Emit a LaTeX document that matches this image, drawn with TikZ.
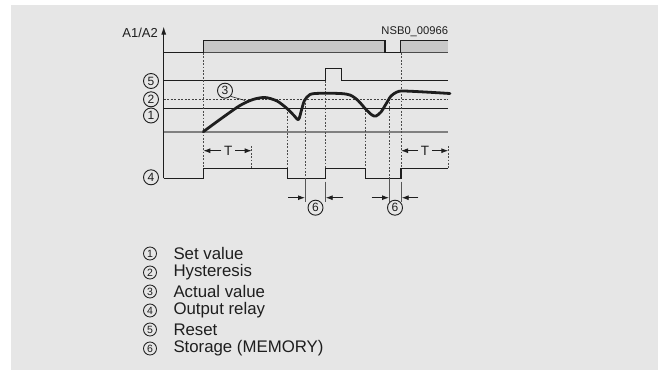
\documentclass[tikz,border=0pt]{standalone}
\usepackage{fontspec}
\setmainfont{Liberation Sans}
\usetikzlibrary{arrows.meta}
\definecolor{bg}{RGB}{230,230,230}
\definecolor{boxfill}{RGB}{200,200,200}
\definecolor{ink}{RGB}{30,30,30}
\definecolor{midgray}{RGB}{128,128,128}
\begin{document}
\begin{tikzpicture}[x=1pt,y=-1pt,
  sig/.style={draw=ink, line width=1.3pt, line join=miter},
  dotv/.style={draw=ink!80, line width=0.9pt, dash pattern=on 1.8pt off 1.6pt},
  tick/.style={draw=ink!75, line width=0.9pt},
  cnum/.style={circle, draw=ink, line width=0.9pt, inner sep=0pt, minimum size=15pt, font=\fontsize{12}{12}\selectfont, text=ink},
  lnum/.style={circle, draw=ink, line width=0.85pt, inner sep=0pt, minimum size=13pt, font=\fontsize{10.5}{10.5}\selectfont, text=ink},
  ltext/.style={anchor=west, inner sep=0pt, font=\fontsize{16.8}{16.8}\selectfont, text=ink},
  tlabel/.style={inner sep=2.5pt, font=\fontsize{13.5}{13.5}\selectfont, text=ink},
  dimarrow/.style={-{Latex[length=7pt,width=5pt]}, draw=ink, line width=0.9pt},
]
\useasboundingbox (0,0) rectangle (658,370);
\fill[white] (0,0) rectangle (658,370);
\fill[bg] (11,5) rectangle (658,370);

% A1/A2 supply
\fill[boxfill] (203.3,40.7) rectangle (385,52.7);
\fill[boxfill] (400.7,40.7) rectangle (448.3,52.7);
\draw[ink!80, line width=0.6pt] (203.3,52.7) -- (385,52.7);
\draw[ink!80, line width=0.6pt] (400.7,52.7) -- (448.3,52.7);
\draw[sig] (163.7,52.7) -- (203.3,52.7) -- (203.3,40.7) -- (385,40.7) -- (385,52.7) -- (400.7,52.7) -- (400.7,40.7) -- (448.3,40.7);

% axis
\coordinate (axbot) at (163.7,178.3);
\coordinate (axtop) at (163.7,26.5);
\draw[ink, line width=1pt, -{Latex[length=8pt,width=5pt]}] (axbot) -- (axtop);
\node[anchor=east, inner sep=0pt, font=\fontsize{13}{13}\selectfont, text=ink] (a1a2) at (158,32.7) {A1/A2};
\node[anchor=east, inner sep=0pt, font=\fontsize{11.2}{11.2}\selectfont, text=ink] (nsb) at (448.3,31.7) {NSB0\_00966};

% reset
\draw[sig] (163.7,80.7) -- (325.7,80.7) -- (325.7,68.3) -- (341.7,68.3) -- (341.7,80.7) -- (448,80.7);
% hysteresis
\draw[ink!85, line width=1pt, dash pattern=on 2pt off 1.5pt] (163.7,99.3) -- (448,99.3);
% set value
\draw[ink, line width=1pt] (163.7,108.3) -- (448,108.3);
% gray base
\draw[midgray, line width=2pt] (163.7,131.7) -- (448,131.7);

% vertical dotted guides
\draw[dotv] (203.3,53) -- (203.3,168.3);
\draw[dotv] (287.7,109) -- (287.7,168.3);
\draw[dotv] (305,103) -- (305,178.3);
\draw[dotv] (325.7,81) -- (325.7,168.3);
\draw[dotv] (365.7,110) -- (365.7,168.3);
\draw[dotv] (389,99) -- (389,178.3);
\draw[dotv] (401,53) -- (401,168.3);
\draw[dotv] (251.7,146) -- (251.7,168.3);
\draw[dotv] (448.3,146) -- (448.3,168.3);

% actual value curve
\draw[ink, line width=2.8pt, line join=round, line cap=round] plot[smooth, tension=0.5] coordinates {
 (203.3,131.7) (222,118) (240,105.5) (253,99.5) (265,97.5) (277,101) (287,108.5) (294,115.5) (298.5,119.5)
 (301.5,110) (304.5,100.5) (310,94.5) (320,93.3) (340,93.5) (350,95) (358,100.5) (366,109.5) (372,115) (376,116)
 (381,112) (386,104) (391,96) (397,92) (403,91) (425,92) (450,93.5)};

% output relay
\draw[sig] (163.7,178.3) -- (203.3,178.3) -- (203.3,168.3) -- (287.7,168.3) -- (287.7,178.3) -- (325.7,178.3) -- (325.7,168.3) -- (365.7,168.3) -- (365.7,178.3) -- (401,178.3) -- (401,168.3) -- (448.3,168.3);

% labels in diagram
\node[cnum] (n5) at (151,81) {5};
\node[cnum] (n2) at (151,99.3) {2};
\node[cnum] (n1) at (151,115.5) {1};
\node[cnum] (n4) at (151,177.3) {4};
\node[cnum] (n3) at (225,90.7) {3};
\coordinate (c3) at (245,100.5);
\draw[ink, line width=0.6pt] (n3.south east) -- (c3);

% T dimensions
\node[tlabel] (t1) at (228.3,150.7) {T};
\coordinate (t1l) at (203.3,150.7);
\coordinate (t1r) at (251.7,150.7);
\draw[dimarrow] (t1.west) -- (t1l);
\draw[dimarrow] (t1.east) -- (t1r);
\node[tlabel] (t2) at (425,150.7) {T};
\coordinate (t2l) at (401,150.7);
\coordinate (t2r) at (448.3,150.7);
\draw[dimarrow] (t2.west) -- (t2l);
\draw[dimarrow] (t2.east) -- (t2r);

% storage (6) dimensions
\draw[tick] (305,178.3) -- (305,201.7);
\draw[tick] (325.7,181.5) -- (325.7,201.7);
\draw[tick] (389,178.3) -- (389,201.7);
\draw[tick] (401.7,181.5) -- (401.7,201.7);
\coordinate (s1a) at (288.3,197.7); \coordinate (s1b) at (305,197.7);
\coordinate (s1c) at (343.3,197.7); \coordinate (s1d) at (325.7,197.7);
\coordinate (s2a) at (371.7,197.7); \coordinate (s2b) at (389,197.7);
\coordinate (s2c) at (418.3,197.7); \coordinate (s2d) at (401.7,197.7);
\draw[dimarrow] (s1a) -- (s1b);
\draw[dimarrow] (s1c) -- (s1d);
\draw[dimarrow] (s2a) -- (s2b);
\draw[dimarrow] (s2c) -- (s2d);
\node[cnum] (n6a) at (315.5,207.7) {6};
\node[cnum] (n6b) at (395,207.7) {6};

% legend
\node[lnum] (l1) at (150,253.5) {1}; \node[ltext] (lt1) at (173.3,253.5) {Set value};
\node[lnum] (l2) at (150,272.5) {2}; \node[ltext] (lt2) at (173.3,272.5) {Hysteresis};
\node[lnum] (l3) at (150,291.5) {3}; \node[ltext] (lt3) at (173.3,291.5) {Actual value};
\node[lnum] (l4) at (150,310.5) {4}; \node[ltext] (lt4) at (173.3,310.5) {Output relay};
\node[lnum] (l5) at (150,329.5) {5}; \node[ltext] (lt5) at (173.3,329.5) {Reset};
\node[lnum] (l6) at (150,348.5) {6}; \node[ltext] (lt6) at (173.3,348.5) {Storage (MEMORY)};
\end{tikzpicture}
\end{document}
